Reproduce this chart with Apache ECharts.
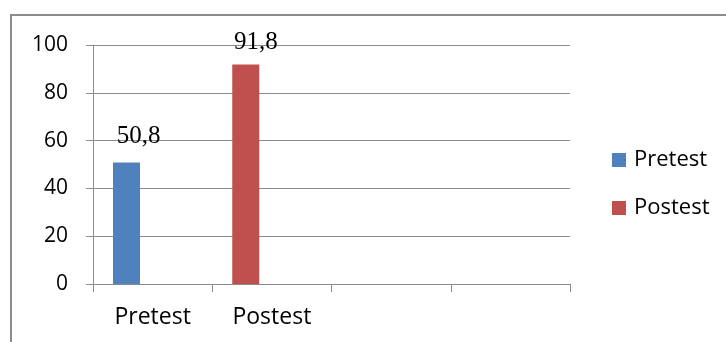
<!DOCTYPE html>
<html>
<head>
<meta charset="utf-8">
<script src="https://cdn.jsdelivr.net/npm/echarts@6/dist/echarts.min.js"></script>
<style>
html,body{margin:0;padding:0;background:#fff;}
#chart{width:726px;height:342px;}
</style>
</head>
<body>
<div id="chart"></div>
<script>
var categories = ['Pretest', 'Postest', '', ''];
var pretestValues = [50.8, null, null, null];
var postestValues = [null, 91.8, null, null];
var spacerValues = [null, null, null, null];
var yTicks = { min: 0, max: 100, interval: 20 };
var seriesNames = ['Pretest', 'Postest'];

var chart = echarts.init(document.getElementById('chart'), null, { renderer: 'canvas' });
var gray = '#8c8c8c';
var labelBase = {
  show: true,
  position: 'top',
  fontFamily: 'Liberation Serif',
  fontSize: 25,
  color: '#000',
  formatter: function (p) { return String(p.value).replace('.', ','); }
};
chart.setOption({
  animation: false,
  backgroundColor: '#fff',
  graphic: [{
    type: 'rect',
    shape: { x: 11, y: 15, width: 900, height: 500 },
    style: { fill: 'none', stroke: gray, lineWidth: 2 },
    silent: true
  }],
  grid: { left: 93, right: 156, top: 45, bottom: 58, containLabel: false },
  legend: {
    data: seriesNames,
    orient: 'vertical',
    left: 612,
    top: 149,
    padding: 0,
    itemWidth: 14,
    itemHeight: 14,
    itemGap: 26,
    icon: 'rect',
    textStyle: { fontFamily: 'Open Sans', fontSize: 22, color: '#000', padding: [0, 0, 0, 3] }
  },
  xAxis: {
    type: 'category',
    data: categories,
    boundaryGap: true,
    axisLine: { show: true, lineStyle: { color: gray, width: 1 } },
    axisTick: { show: true, length: 8, alignWithLabel: false, lineStyle: { color: gray } },
    axisLabel: { fontFamily: 'Open Sans', fontSize: 23, color: '#000', margin: 22, interval: 0 },
    splitLine: { show: false }
  },
  yAxis: {
    type: 'value',
    min: yTicks.min,
    max: yTicks.max,
    interval: yTicks.interval,
    axisLine: { show: true, lineStyle: { color: gray, width: 1 } },
    axisTick: { show: true, length: 7, lineStyle: { color: gray } },
    axisLabel: { fontFamily: 'Open Sans', fontSize: 21, color: '#000', margin: 25 },
    splitLine: { show: true, lineStyle: { color: gray, width: 1 } }
  },
  series: [
    {
      name: seriesNames[0], type: 'bar', stack: 'a', data: pretestValues,
      barWidth: 27, barGap: '93.5%',
      itemStyle: { color: '#4F81BD' },
      label: Object.assign({}, labelBase, { distance: 14, offset: [12, 0] })
    },
    {
      name: seriesNames[1], type: 'bar', stack: 'a', data: postestValues,
      barWidth: 27, barGap: '93.5%',
      itemStyle: { color: '#C0504D' },
      label: Object.assign({}, labelBase, { distance: 10, offset: [10, 0] })
    },
    {
      name: 'spacer', type: 'bar', stack: 'b', data: spacerValues,
      barWidth: 27, barGap: '93.5%',
      itemStyle: { color: 'transparent' },
      silent: true
    }
  ]
});
</script>
</body>
</html>
